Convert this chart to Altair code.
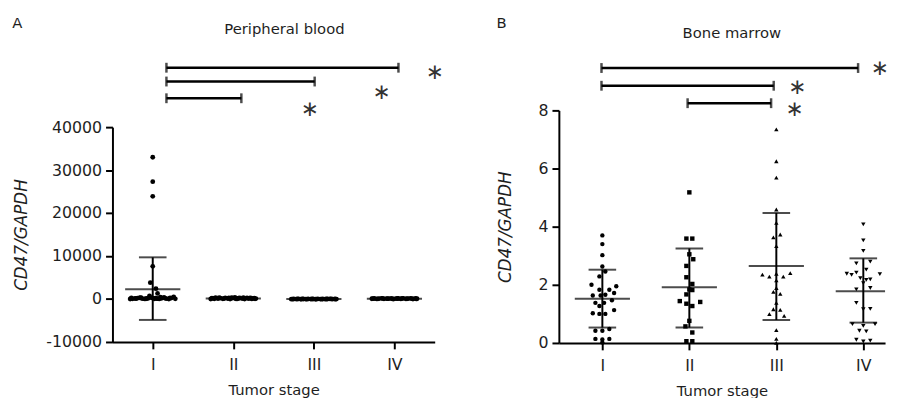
import altair as alt
import pandas as pd

ROMAN = "datum.value == 1 ? 'I' : datum.value == 2 ? 'II' : datum.value == 3 ? 'III' : datum.value == 4 ? 'IV' : ''"
FONT = "DejaVu Sans"
INK = "#1e1e1e"

# ---------------- Panel A: Peripheral blood ----------------
a1_val = [33000, 27300, 23900, 7600, 3800, 2400, 1300, 700,
          0, 50, 120, 200, 300, 80, 30, 150, 400, 250, 60, 100, 20, 180, 350, 90, 10, 220, 500, 40, 130, 70,
          260, 110, 330, 60, 190, 420, 150, 280]
a1_dx = [0, 0, 0, 0, -0.03, 0.04, 0.06, -0.04,
         -0.28, -0.25, -0.22, -0.19, -0.16, -0.13, -0.10, -0.07, -0.04, -0.01, 0.02, 0.05, 0.08, 0.11,
         0.14, 0.17, 0.20, 0.23, 0.26, 0.28, -0.06, 0.06,
         -0.265, -0.205, -0.145, -0.085, 0.035, 0.095, 0.155, 0.215]
a2_val = [0, 150, 300, 80, 220, 40, 260, 120, 10, 190, 350, 60, 240, 100, 0, 280, 170, 30, 210, 90, 320, 140,
          200, 60, 310, 120, 250, 20, 180, 330, 90, 270, 150, 40]
a2_dx = [-0.28, -0.25, -0.22, -0.19, -0.16, -0.13, -0.10, -0.07, -0.04, -0.01, 0.02, 0.05, 0.08,
         0.11, 0.14, 0.17, 0.20, 0.23, 0.26, 0.28, -0.02, 0.03,
         -0.265, -0.235, -0.175, -0.115, -0.055, 0.035, 0.065, 0.125, 0.185, 0.215, 0.245, 0.27]
a3_val = [-40, 0, -20, 20, -60, 10, -30, 30, -10, 0, -50, 20, -20, 10, -40, 0, 30, -30, 10, -10,
          -20, 0, 20, -40, 10, -10, -30, 0, 20, -20]
a3_dx = [-0.28, -0.25, -0.22, -0.19, -0.16, -0.13, -0.10, -0.07, -0.04, -0.01, 0.02, 0.05, 0.08,
         0.11, 0.14, 0.17, 0.20, 0.23, 0.26, 0.28,
         -0.265, -0.205, -0.145, -0.085, -0.025, 0.035, 0.095, 0.155, 0.215, 0.27]
a4_val = [60, 120, 20, 90, 150, 40, 100, 70, 130, 0, 80, 110, 30, 160, 50, 90, 140, 10, 120, 60,
          100, 40, 130, 70, 20, 110, 150, 60, 90, 30]
a4_dx = [-0.28, -0.25, -0.22, -0.19, -0.16, -0.13, -0.10, -0.07, -0.04, -0.01, 0.02, 0.05, 0.08,
         0.11, 0.14, 0.17, 0.20, 0.23, 0.26, 0.28,
         -0.265, -0.205, -0.145, -0.085, -0.025, 0.035, 0.095, 0.155, 0.215, 0.27]
a_mean = [2250, 120, -20, 80]
a_upper = [9700, 260, 60, 180]
a_lower = [-4870, -20, -100, -20]

a_br_x1 = [1.17, 1.17, 1.17]
a_br_x2 = [4.05, 3.01, 2.10]
a_br_level = [60.3, 46.3, 29.3]
a_star_x = [4.50, 3.84, 2.95]
a_star_level = [55.3, 34.3, 17.3]

# ---------------- Panel B: Bone marrow ----------------
b1_val = [3.70, 3.40, 3.02, 2.63, 2.46, 2.29, 2.00, 1.83, 1.83, 1.95, 1.72, 1.63, 1.63, 1.66, 1.38,
          1.38, 1.47, 1.27, 1.13, 1.02, 1.00, 1.00, 0.42, 0.42, 0.48, 0.14, 0.12, 0.14, 0.02]
b1_dx = [0, 0, 0, 0, 0.034, -0.034, -0.125, -0.034, 0.08, 0.16, 0.135, -0.11, -0.02, 0.034, -0.08,
         0.02, 0.11, -0.034, 0.135, -0.11, -0.034, 0.034, -0.08, 0, 0.08, -0.08, 0, 0.08, 0]
b2_val = [5.18, 3.59, 3.59, 3.05, 2.88, 2.65, 2.26, 2.03, 1.84, 1.82, 1.67, 1.44, 1.35, 1.27, 1.41,
          0.76, 0.57, 0.36, 0.06, 0.06]
b2_dx = [0, -0.034, 0.034, 0, 0.045, -0.034, -0.034, 0.034, 0, 0.034, -0.034, -0.11, -0.034, 0.034,
         0.125, 0, -0.045, 0.034, -0.034, 0.034]
b3_val = [7.35, 6.25, 5.69, 4.59, 4.13, 3.63, 3.73, 3.33, 2.35, 2.28, 2.38, 2.28, 2.40, 2.15, 1.89,
          1.76, 1.69, 1.38, 1.16, 1.14, 0.99, 0.93, 0.44, 0.14, 0.00]
b3_dx = [0, 0, 0, 0, 0, -0.034, 0.045, 0, -0.16, -0.08, 0, 0.08, 0.16, 0, 0,
         -0.034, 0.045, 0, -0.034, 0.045, -0.08, 0.09, 0, 0, 0]
b4_val = [4.08, 3.53, 3.17, 2.74, 2.80, 2.52, 2.38, 2.34, 2.42, 2.23, 2.17, 2.19, 2.37, 2.06, 1.84,
          1.89, 1.38, 1.16, 1.17, 0.65, 0.59, 0.65, 0.42, 0.40, 0.11, 0.05, 0.08]
b4_dx = [0, 0, 0, -0.08, 0.08, 0.034, -0.19, -0.135, -0.08, -0.034, 0.034, 0.08, 0.19, 0, -0.08,
         0.08, -0.08, 0, 0.08, -0.125, 0, 0.135, -0.045, 0.034, -0.08, 0, 0.08]
b_mean = [1.52, 1.92, 2.65, 1.78]
b_upper = [2.52, 3.25, 4.47, 2.91]
b_lower = [0.53, 0.53, 0.79, 0.70]

b_br_x1 = [0.99, 0.99, 1.98]
b_br_x2 = [3.94, 2.97, 2.94]
b_br_level = [43.0, 25.0, 7.3]
b_star_x = [4.19, 3.24, 3.21]
b_star_level = [42.0, 23.0, 0.0]


def points_df(groups):
    rows = []
    for stage, (vals, dxs) in enumerate(groups, start=1):
        for v, d in zip(vals, dxs):
            rows.append({"stage": stage, "value": v, "xpos": stage + d})
    return pd.DataFrame(rows)


def summary_df(mean, upper, lower):
    return pd.DataFrame({"stage": [1, 2, 3, 4], "mean": mean, "upper": upper, "lower": lower})


def x_axis():
    return alt.Axis(values=[1, 2, 3, 4], labelExpr=ROMAN, title="Tumor stage", grid=False,
                    domainColor="black", domainWidth=2, tickColor="black", tickWidth=2, tickSize=7,
                    labelFont=FONT, labelFontSize=16, labelColor=INK, labelPadding=8,
                    titleFont=FONT, titleFontSize=15, titleFontWeight="normal", titleColor=INK,
                    titlePadding=10)


def y_axis(values, title_pad):
    return alt.Axis(values=values, labelExpr="'' + datum.value", title="CD47/GAPDH", grid=False,
                    domainColor="black", domainWidth=2, tickColor="black", tickWidth=2, tickSize=7,
                    labelFont=FONT, labelFontSize=16, labelColor=INK, labelPadding=4,
                    titleFont=FONT, titleFontSize=17, titleFontWeight="normal", titleFontStyle="italic",
                    titleColor=INK, titlePadding=title_pad)


def data_chart(pts, summ, xdom, ydom, yvals, width, height, shapes, title_pad, psize):
    xs = alt.Scale(domain=xdom, nice=False, zero=False)
    ys = alt.Scale(domain=ydom, nice=False, zero=False)
    pts_layer = alt.Chart(pts).mark_point(filled=True, opacity=1, color="black", size=psize).encode(
        x=alt.X("xpos:Q", scale=xs, axis=x_axis()),
        y=alt.Y("value:Q", scale=ys, axis=y_axis(yvals, title_pad)),
        shape=alt.Shape("stage:N", scale=alt.Scale(domain=[1, 2, 3, 4], range=shapes), legend=None),
    )
    base = alt.Chart(summ)
    err = base.mark_rule(color="black", strokeWidth=2).encode(
        x=alt.X("stage:Q", scale=xs), y=alt.Y("lower:Q", scale=ys), y2="upper:Q")
    cap_hi = base.mark_tick(color="black", orient="horizontal", size=28, thickness=2).encode(
        x=alt.X("stage:Q", scale=xs), y=alt.Y("upper:Q", scale=ys))
    cap_lo = base.mark_tick(color="black", orient="horizontal", size=28, thickness=2).encode(
        x=alt.X("stage:Q", scale=xs), y=alt.Y("lower:Q", scale=ys))
    mean = base.mark_tick(color="black", orient="horizontal", size=56, thickness=2, clip=True).encode(
        x=alt.X("stage:Q", scale=xs), y=alt.Y("mean:Q", scale=ys))
    return alt.layer(pts_layer, err, cap_hi, cap_lo, mean).properties(width=width, height=height)


def bracket_chart(x1, x2, lvl, sx, slvl, xdom, width, height, title, tdx, tdy):
    xs = alt.Scale(domain=xdom, nice=False, zero=False)
    ys = alt.Scale(domain=[0, height], nice=False, zero=False)
    br = pd.DataFrame({"x1": x1, "x2": x2, "level": lvl})
    caps = pd.DataFrame({"x": x1 + x2, "level": lvl + lvl})
    stars = pd.DataFrame({"x": sx, "level": slvl, "t": ["∗"] * len(sx)})
    line = alt.Chart(br).mark_rule(color="black", strokeWidth=2.5).encode(
        x=alt.X("x1:Q", scale=xs, axis=None), x2="x2:Q", y=alt.Y("level:Q", scale=ys, axis=None))
    cap = alt.Chart(caps).mark_tick(color="black", orient="vertical", size=10, thickness=2.5).encode(
        x=alt.X("x:Q", scale=xs, axis=None), y=alt.Y("level:Q", scale=ys, axis=None))
    star = alt.Chart(stars).mark_text(font=FONT, fontSize=22, color="#333", baseline="middle", dy=-1).encode(
        x=alt.X("x:Q", scale=xs, axis=None), y=alt.Y("level:Q", scale=ys, axis=None), text="t:N")
    return alt.layer(line, cap, star).properties(
        width=width, height=height,
        title=alt.Title(title, font=FONT, fontSize=15, fontWeight="normal", color=INK,
                        anchor="middle", dx=tdx, dy=tdy))


A_XDOM = [0.5, 4.5]
B_XDOM = [0.5, 4.25]

ptsA = points_df([(a1_val, a1_dx), (a2_val, a2_dx), (a3_val, a3_dx), (a4_val, a4_dx)])
ptsB = points_df([(b1_val, b1_dx), (b2_val, b2_dx), (b3_val, b3_dx), (b4_val, b4_dx)])

dataA = data_chart(ptsA, summary_df(a_mean, a_upper, a_lower), A_XDOM, [-10000, 40000],
                   [-10000, 0, 10000, 20000, 30000, 40000], 327, 218,
                   ["circle", "circle", "circle", "circle"], 16, 24)
dataB = data_chart(ptsB, summary_df(b_mean, b_upper, b_lower), B_XDOM, [0, 8],
                   [0, 2, 4, 6, 8], 331, 236,
                   ["circle", "square", "triangle-up", "triangle-down"], 24, 20)

brA = bracket_chart(a_br_x1, a_br_x2, a_br_level, a_star_x, a_star_level, A_XDOM, 327, 67,
                    "Peripheral blood", 11, -20)
brB = bracket_chart(b_br_x1, b_br_x2, b_br_level, b_star_x, b_star_level, B_XDOM, 331, 50,
                    "Bone marrow", 10, -12)

letter = dict(font=FONT, fontSize=15, fontWeight="normal", color=INK, anchor="start")
panelA = alt.vconcat(brA, dataA, spacing=0, bounds="flush",
                     title=alt.Title("A", dy=13, **letter)).resolve_scale(x="independent", y="independent")
panelB = alt.vconcat(brB, dataB, spacing=0, bounds="flush",
                     title=alt.Title("B", dy=8, **letter)).resolve_scale(x="independent", y="independent")

chart = alt.hconcat(panelA, panelB, spacing=52).resolve_scale(
    x="independent", y="independent", shape="independent"
).properties(
    padding={"left": 4, "top": 5, "right": 0, "bottom": 0}, background="white"
).configure_view(stroke=None)

chart.save("out.html", embed_options={"renderer": "svg", "actions": False})
